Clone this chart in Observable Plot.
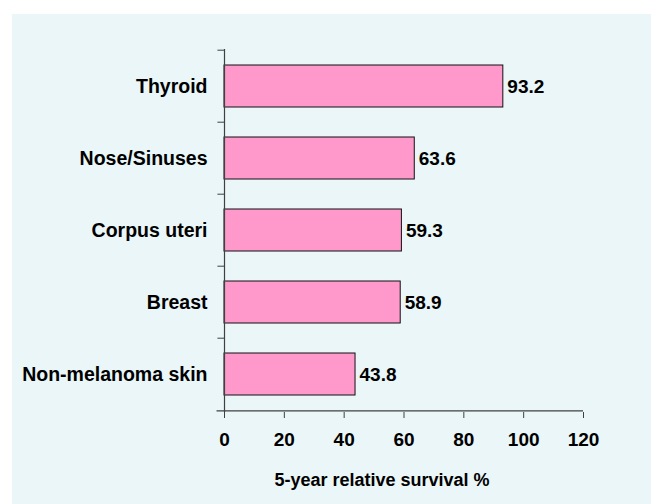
<!DOCTYPE html>
<html>
<head>
<meta charset="utf-8">
<script src="https://cdn.jsdelivr.net/npm/d3@7"></script>
<script src="https://cdn.jsdelivr.net/npm/@observablehq/plot@0.6"></script>
<style>
  html, body { margin: 0; padding: 0; background: #ffffff; }
  #wrap { position: relative; width: 651px; height: 504px; overflow: hidden; background: #ffffff; }
  #panel { position: absolute; left: 12px; top: 14px; right: 0; bottom: 0; background: #EAF6F7; }
  #chart { position: absolute; left: 0; top: 0; }
</style>
</head>
<body>
<div id="wrap"><div id="panel"></div><div id="chart"></div></div>
<script>
const categories = ["Thyroid", "Nose/Sinuses", "Corpus uteri", "Breast", "Non-melanoma skin"];
const survival = [93.2, 63.6, 59.3, 58.9, 43.8];
const xTicks = [0, 20, 40, 60, 80, 100, 120];
const xTitle = "5-year relative survival %";

const data = categories.map((c, i) => ({cancer: c, value: survival[i]}));

const W = 651, H = 504, mt = 49, mb = 92, ml = 224, mr = 68;
const step = (H - mt - mb) / categories.length;
const axisColor = "#404040";
const font = "Arial, 'Liberation Sans', Helvetica, sans-serif";

const chart = Plot.plot({
  width: W,
  height: H,
  marginTop: mt,
  marginBottom: mb,
  marginLeft: ml,
  marginRight: mr,
  style: {background: "transparent", fontFamily: font, fontWeight: "bold", fontSize: "19px", color: "#000", overflow: "visible"},
  x: {domain: [0, 120]},
  y: {domain: categories, paddingInner: 0.41, paddingOuter: 0.205},
  marks: [
    Plot.barX(data, {x: "value", y: "cancer", fill: "#FF99CC", stroke: "#111", strokeWidth: 1}),
    Plot.ruleX([0], {stroke: axisColor, strokeWidth: 1.2}),
    Plot.ruleY(categories, {y: d => d, x1: -2.2, x2: 0, dy: -step / 2, stroke: axisColor}),
    Plot.ruleY([categories[categories.length - 1]], {y: d => d, x1: -2.5, x2: 120, dy: step / 2, stroke: axisColor, strokeWidth: 1.2}),
    Plot.axisX({ticks: xTicks, tickSize: 6, tickPadding: 14, label: null, stroke: axisColor, fill: "#000", fontSize: 19, fontWeight: "bold"}),
    Plot.axisY({tickSize: 0, tickPadding: 17, label: null, fill: "#000", fontSize: 19.5, fontWeight: "bold"}),
    Plot.text(data, {x: "value", y: "cancer", text: d => d.value.toFixed(1), dx: 4, textAnchor: "start", fill: "#000", fontSize: 19, fontWeight: "bold"}),
    Plot.text([xTitle], {frameAnchor: "bottom", dy: 73, dx: -22, text: d => d, fill: "#000", fontSize: 18, fontWeight: "bold"})
  ]
});
document.getElementById("chart").appendChild(chart);
</script>
</body>
</html>
